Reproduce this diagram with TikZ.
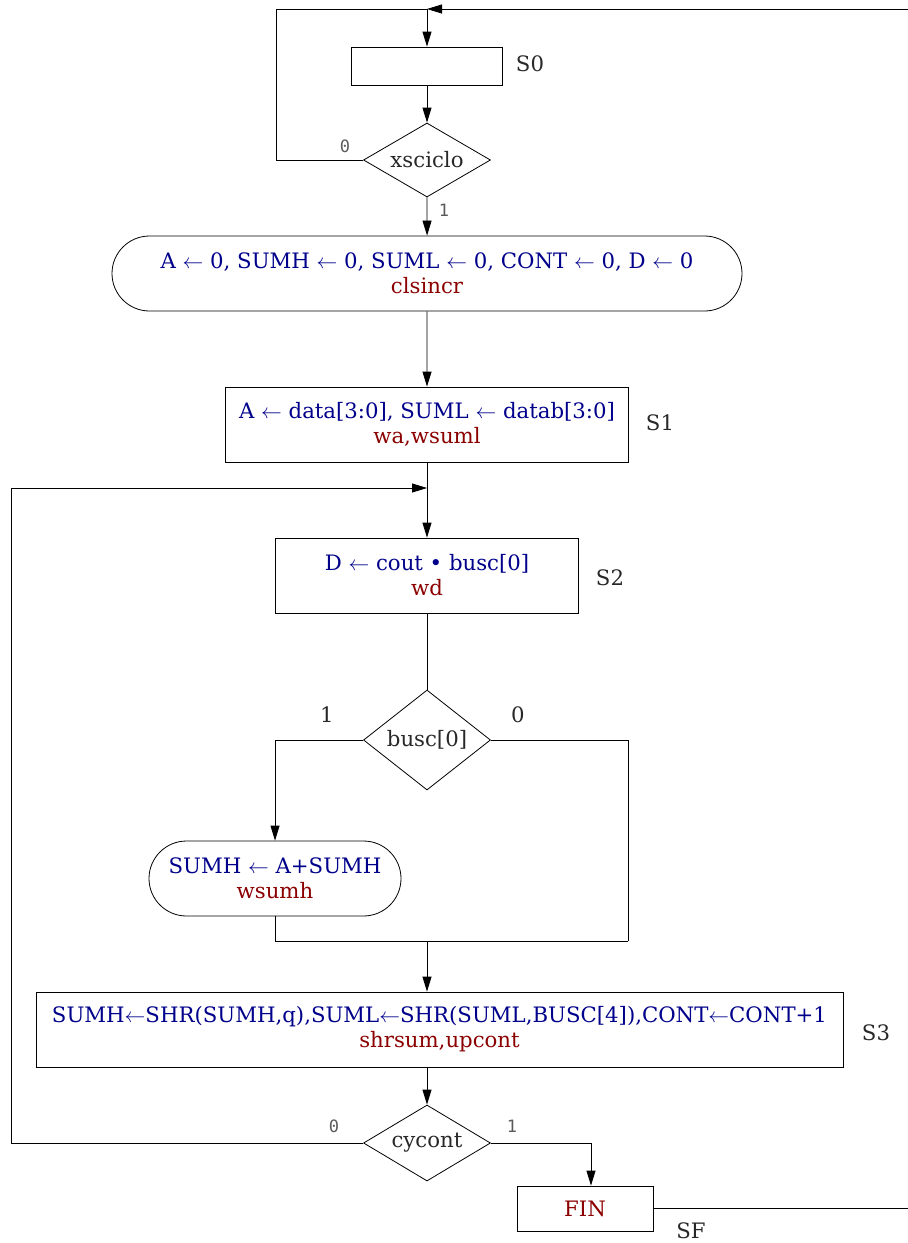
\documentclass[tikz,border=0pt]{standalone}
\usepackage{fontspec}
\setmainfont{DejaVu Serif}
\setmonofont{DejaVu Sans Mono}
\usetikzlibrary{arrows.meta,shapes.geometric,shapes.misc}
\definecolor{opblue}{RGB}{0,0,139}
\definecolor{sigred}{RGB}{139,0,0}
\definecolor{lblgray}{RGB}{40,40,40}
\definecolor{bitgray}{RGB}{90,90,90}

\begin{document}
\begin{tikzpicture}[x=1pt,y=-1pt,>={Triangle[length=15pt,width=9pt]},line width=0.8pt,font=\fontsize{21.25}{25}\selectfont]
\tikzstyle{box}=[draw,inner sep=0pt,align=center,minimum height=75]
\tikzstyle{stad}=[draw,rounded rectangle,inner sep=0pt,align=center,minimum height=75]
\tikzstyle{dia}=[draw,diamond,inner sep=0pt,minimum width=127,text=lblgray]
\tikzstyle{flat}=[shape aspect=1.7,inner sep=-2.5pt]
\tikzstyle{lbl}=[text=lblgray]
\tikzstyle{bit}=[text=bitgray,font=\ttfamily\fontsize{17}{20}\selectfont]
\useasboundingbox (0,0) rectangle (908,1243);
% states
\node[box,minimum width=151,minimum height=38] (s0) at (427,66) {};
\node[dia,flat,minimum height=74] (xs) at (427,160) {xsciclo};
\node[stad,minimum width=630] (ini) at (427,273.5) {\textcolor{opblue}{A $\gets$ 0, SUMH $\gets$ 0, SUML $\gets$ 0, CONT $\gets$ 0, D $\gets$ 0}\\\textcolor{sigred}{clsincr}};
\node[box,minimum width=403] (s1) at (427,424.5) {\textcolor{opblue}{A $\gets$ data[3:0], SUML $\gets$ datab[3:0]}\\\textcolor{sigred}{wa,wsuml}};
\node[box,minimum width=303] (s2) at (427,575.5) {\textcolor{opblue}{D $\gets$ cout • busc[0]}\\\textcolor{sigred}{wd}};
\node[dia,minimum height=100] (bu) at (427,740) {busc[0]};
\node[stad,minimum width=252] (wh) at (275,878.5) {\textcolor{opblue}{SUMH $\gets$ A+SUMH}\\\textcolor{sigred}{wsumh}};
\node[box,minimum width=807] (s3) at (439.5,1029.5) {\textcolor{opblue}{SUMH$\gets$SHR(SUMH,q),SUML$\gets$SHR(SUML,BUSC[4]),CONT$\gets$CONT+1}\\\textcolor{sigred}{shrsum,upcont}};
\node[dia,flat,minimum height=76] (cy) at (427,1143) {cycont};
\node[box,minimum width=136,minimum height=45] (fin) at (585,1208.5) {\textcolor{sigred}{FIN}};
% state names
\node[lbl] (ls0) at (530,64) {S0};
\node[lbl] (ls1) at (660,423) {S1};
\node[lbl] (ls2) at (610,578) {S2};
\node[lbl] (ls3) at (876,1033) {S3};
\node[lbl] (lsf) at (691,1231) {SF};
% branch values
\node[bit] (xs0) at (345,146) {0};
\node[bit] (xs1) at (444,210) {1};
\node[lbl] (bu1) at (327,715) {1};
\node[lbl] (bu0) at (518,715) {0};
\node[bit] (cy0) at (334,1126) {0};
\node[bit] (cy1) at (512,1126) {1};
% junctions
\coordinate (top) at (427,9);
\coordinate (j2) at (427,488);
\coordinate (rt) at (628,941);
\coordinate (j3) at (427,941);
% connectors
\draw[->] (top) -- (s0);
\draw[->] (s0) -- (xs);
\draw (xs.west) -- ++(-87,0) |- (top);
\draw[->] (xs) -- (ini);
\draw[->] (ini) -- (s1);
\draw[->] (s1) -- (s2);
\draw (s2) -- (bu);
\draw[->] (bu.west) -| (wh);
\draw (bu.east) -| (rt);
\draw (wh) |- (rt);
\draw[->] (j3) -- (s3.north -| j3);
\draw[->] (s3.south -| cy) -- (cy);
\draw[->] (cy.east) -| ([xshift=6pt]fin.north);
\draw[->] (cy.west) -- ++(-352,0) |- (j2);
\draw[->] (fin.east) -- ++(262,0) |- (top);
\end{tikzpicture}
\end{document}
